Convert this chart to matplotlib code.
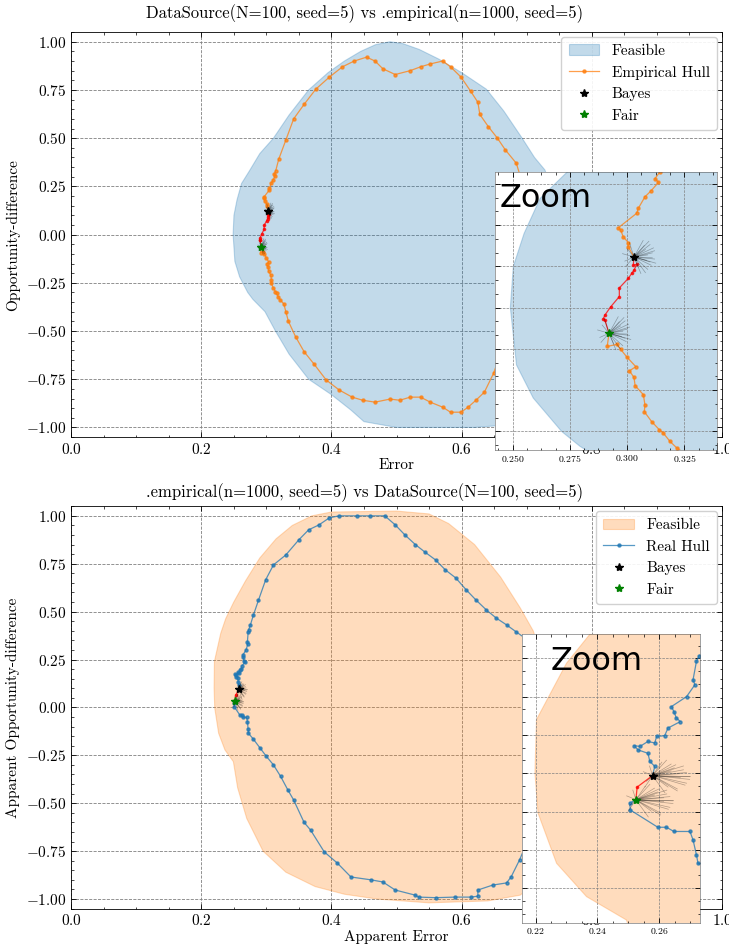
import matplotlib
matplotlib.use('Agg')
import matplotlib.pyplot as plt
from matplotlib.ticker import MultipleLocator, AutoMinorLocator

# Style: serif text, ticks pointing in on all four sides, dashed grid
plt.rcParams['font.family'] = 'serif'
plt.rcParams['font.serif'] = ['cmr10', 'DejaVu Serif']
plt.rcParams['mathtext.fontset'] = 'cm'
plt.rcParams['axes.formatter.use_mathtext'] = True
plt.rcParams['font.size'] = 11
plt.rcParams['axes.linewidth'] = 0.6
plt.rcParams['xtick.direction'] = 'in'
plt.rcParams['ytick.direction'] = 'in'
plt.rcParams['xtick.top'] = True
plt.rcParams['ytick.right'] = True
plt.rcParams['xtick.major.size'] = 3.5
plt.rcParams['ytick.major.size'] = 3.5
plt.rcParams['xtick.minor.size'] = 1.8
plt.rcParams['ytick.minor.size'] = 1.8
plt.rcParams['xtick.major.width'] = 0.6
plt.rcParams['ytick.major.width'] = 0.6
plt.rcParams['xtick.minor.width'] = 0.5
plt.rcParams['ytick.minor.width'] = 0.5
plt.rcParams['grid.linestyle'] = '--'
plt.rcParams['grid.color'] = '#808080'
plt.rcParams['grid.linewidth'] = 0.6

# ---------------- top panel: DataSource vs .empirical ----------------
feas_top_x = [0.249, 0.2503, 0.255, 0.262, 0.274, 0.29, 0.311, 0.335, 0.365, 0.395,
              0.42, 0.445, 0.468, 0.49, 0.51, 0.535, 0.565, 0.60, 0.638, 0.665,
              0.693, 0.712, 0.728, 0.742, 0.75, 0.752, 0.75, 0.745, 0.735, 0.715,
              0.69, 0.66, 0.62, 0.56, 0.50, 0.45, 0.43, 0.40, 0.365, 0.335,
              0.314, 0.298, 0.2794, 0.2714, 0.259, 0.2517]
feas_top_y = [0.0, 0.10, 0.18, 0.265, 0.33, 0.42, 0.50, 0.62, 0.75, 0.84,
              0.90, 0.95, 0.985, 1.0, 0.99, 0.96, 0.91, 0.84, 0.754, 0.64,
              0.50, 0.40, 0.335, 0.20, 0.05, -0.15, -0.35, -0.55, -0.72, -0.86,
              -0.95, -0.99, -1.0, -1.0, -1.0, -0.97, -0.91, -0.83, -0.75, -0.62,
              -0.50, -0.40, -0.336, -0.30, -0.219, -0.139]

hull_top_x = [0.2921, 0.2913, 0.2954, 0.2972, 0.2998, 0.3038, 0.3010, 0.3030, 0.3035, 0.3071,
              0.3078, 0.3075, 0.3107, 0.3141, 0.3158, 0.3187, 0.3217, 0.327, 0.330, 0.334,
              0.345, 0.358, 0.373, 0.392, 0.412, 0.432, 0.448, 0.467, 0.490, 0.505,
              0.521, 0.537, 0.552, 0.571, 0.583, 0.599, 0.610, 0.622, 0.635, 0.649,
              0.658, 0.668, 0.680, 0.692, 0.700, 0.702, 0.695, 0.684, 0.667, 0.655,
              0.641, 0.628, 0.625, 0.614, 0.599, 0.583, 0.571, 0.552, 0.537, 0.521,
              0.498, 0.479, 0.467, 0.454, 0.435, 0.417, 0.397, 0.376, 0.358, 0.342,
              0.330, 0.319, 0.3144, 0.3122, 0.3137, 0.3104, 0.3078, 0.3049, 0.3042, 0.2962,
              0.2972, 0.2983, 0.3005, 0.3005, 0.3030]
hull_top_y = [-0.062, -0.094, -0.089, -0.101, -0.119, -0.143, -0.153, -0.169, -0.189, -0.211,
              -0.236, -0.252, -0.276, -0.296, -0.304, -0.324, -0.340, -0.36, -0.40, -0.45,
              -0.53, -0.607, -0.67, -0.754, -0.806, -0.843, -0.859, -0.869, -0.853, -0.859,
              -0.843, -0.843, -0.869, -0.895, -0.921, -0.921, -0.895, -0.859, -0.817, -0.72,
              -0.634, -0.52, -0.38, -0.22, -0.05, 0.10, 0.25, 0.37, 0.44, 0.50,
              0.56, 0.623, 0.686, 0.743, 0.817, 0.87, 0.90, 0.885, 0.87, 0.85,
              0.83, 0.86, 0.90, 0.92, 0.90, 0.87, 0.817, 0.754, 0.675, 0.60,
              0.49, 0.39, 0.330, 0.313, 0.304, 0.283, 0.269, 0.241, 0.229, 0.194,
              0.188, 0.172, 0.158, 0.148, 0.123]

# segment of the hull between the Bayes and the fair point
red_top_x = [0.3030, 0.3027, 0.3042, 0.3030, 0.3020, 0.3005, 0.2966, 0.2966, 0.2928, 0.2903,
             0.2896, 0.2903, 0.2921]
red_top_y = [0.123, 0.103, 0.105, 0.091, 0.083, 0.071, 0.048, 0.027, 0.002, -0.018,
             -0.027, -0.030, -0.062]

bayes_top = (0.3030, 0.123)
fair_top = (0.2921, -0.062)

fan_top_dx = [0.008, 0.007, 0.009, 0.006, 0.004, 0.0075, 0.0085, 0.005, 0.003, -0.003,
              -0.004, -0.002, 0.006, 0.009, 0.007, 0.002, -0.005, 0.005, 0.008, 0.0045,
              0.0095, 0.0065, -0.0035, 0.0055]
fan_top_dy = [0.010, 0.030, -0.005, -0.030, 0.040, -0.020, 0.022, 0.018, -0.040, 0.020,
              -0.010, 0.035, 0.005, 0.015, -0.012, -0.025, 0.008, -0.038, -0.002, 0.028,
              -0.015, 0.038, -0.022, -0.008]

# ---------------- bottom panel: .empirical vs DataSource ----------------
feas_bot_x = [0.2198, 0.2203, 0.230, 0.2376, 0.25, 0.268, 0.29, 0.315, 0.34, 0.37,
              0.40, 0.50, 0.55, 0.58, 0.62, 0.66, 0.69, 0.71, 0.73, 0.745,
              0.75, 0.748, 0.74, 0.72, 0.69, 0.64, 0.55, 0.47, 0.42, 0.375,
              0.33, 0.295, 0.27, 0.256, 0.2494, 0.2365, 0.2268, 0.2208]
feas_bot_y = [0.10, 0.24, 0.387, 0.463, 0.55, 0.66, 0.78, 0.88, 0.95, 1.0,
              1.02, 1.025, 1.01, 0.96, 0.85, 0.68, 0.52, 0.40, 0.20, 0.0,
              -0.25, -0.50, -0.75, -0.90, -0.98, -1.01, -1.02, -1.0, -0.975, -0.935,
              -0.86, -0.75, -0.58, -0.42, -0.283, -0.222, -0.135, -0.004]

hull_bot_x = [0.2525, 0.2505, 0.2507, 0.2596, 0.2624, 0.2648, 0.2700, 0.2710, 0.2721, 0.2726,
              0.280, 0.290, 0.300, 0.311, 0.322, 0.333, 0.342, 0.358, 0.368, 0.389,
              0.409, 0.430, 0.461, 0.479, 0.498, 0.529, 0.534, 0.560, 0.590, 0.615,
              0.625, 0.625, 0.648, 0.669, 0.676, 0.689, 0.700, 0.712, 0.722, 0.728,
              0.726, 0.718, 0.705, 0.697, 0.684, 0.669, 0.653, 0.638, 0.622, 0.607,
              0.591, 0.575, 0.560, 0.544, 0.529, 0.513, 0.498, 0.482, 0.460, 0.440,
              0.412, 0.397, 0.381, 0.365, 0.350, 0.330, 0.311, 0.299, 0.288, 0.280,
              0.2755, 0.2729, 0.2721, 0.2710, 0.2716, 0.2689, 0.2640, 0.2648, 0.2656, 0.2669,
              0.2629, 0.2618, 0.2592, 0.2586, 0.2564, 0.2538, 0.2519, 0.2532, 0.2564, 0.2570,
              0.2586, 0.2579]
hull_bot_y = [0.031, 0.022, 0.004, -0.041, -0.041, -0.052, -0.052, -0.074, -0.113, -0.135,
              -0.165, -0.21, -0.255, -0.30, -0.36, -0.43, -0.483, -0.60, -0.64, -0.754,
              -0.812, -0.885, -0.90, -0.911, -0.953, -0.98, -0.99, -0.993, -0.99, -0.99,
              -0.985, -0.953, -0.927, -0.916, -0.885, -0.796, -0.708, -0.55, -0.35, -0.15,
              0.05, 0.20, 0.32, 0.363, 0.394, 0.431, 0.467, 0.509, 0.561, 0.614,
              0.676, 0.718, 0.77, 0.81, 0.85, 0.90, 0.953, 1.0, 1.0, 1.0,
              1.0, 0.99, 0.953, 0.927, 0.875, 0.796, 0.744, 0.666, 0.56, 0.48,
              0.43, 0.405, 0.392, 0.344, 0.331, 0.300, 0.274, 0.261, 0.244, 0.235,
              0.218, 0.198, 0.196, 0.179, 0.183, 0.170, 0.172, 0.161, 0.152, 0.131,
              0.118, 0.094]

red_bot_x = [0.2579, 0.2529, 0.2525]
red_bot_y = [0.094, 0.064, 0.031]

bayes_bot = (0.2579, 0.094)
fair_bot = (0.2525, 0.031)

fan_bot_dx = [0.012, 0.010, 0.008, 0.011, 0.006, 0.009, 0.004, 0.012, 0.007, -0.003,
              -0.002, 0.005, 0.010, 0.003, 0.009, 0.011, -0.001, 0.008, 0.006, 0.012,
              0.0105, 0.0075, -0.0025, 0.0045]
fan_bot_dy = [0.0, 0.015, -0.035, -0.02, 0.03, 0.005, -0.045, -0.01, 0.02, 0.01,
              -0.015, -0.03, 0.025, 0.035, -0.005, 0.008, 0.025, -0.04, 0.012, -0.003,
              -0.025, 0.028, -0.03, 0.04]


def draw_content(ax, fx, fy, fcolor, hx, hy, hcolor, hlabel, rx, ry,
                 bayes, fair, fan_dx, fan_dy):
    ax.fill(fx, fy, color=fcolor, alpha=0.27, lw=0.8, label='Feasible', zorder=1)
    ax.plot(hx, hy, color=hcolor, lw=0.9, alpha=0.75, marker='o', ms=2.2,
            label=hlabel, zorder=2)
    ax.plot(rx, ry, color='red', lw=0.9, alpha=0.75, marker='o', ms=1.6, zorder=3)
    for px, py in (bayes, fair):
        for dx, dy in zip(fan_dx, fan_dy):
            ax.plot([px, px + dx], [py, py + dy], color='k', lw=0.5, alpha=0.3, zorder=4)
    ax.plot(*bayes, ls='none', marker='*', color='k', ms=6, label='Bayes', zorder=5)
    ax.plot(*fair, ls='none', marker='*', color='green', ms=6, label='Fair', zorder=5)


def style_main(ax):
    ax.set_xlim(0, 1)
    ax.set_ylim(-1.05, 1.05)
    ax.xaxis.set_major_locator(MultipleLocator(0.2))
    ax.yaxis.set_major_locator(MultipleLocator(0.25))
    ax.xaxis.set_minor_locator(AutoMinorLocator(4))
    ax.yaxis.set_minor_locator(AutoMinorLocator(5))
    ax.grid(True, which='major')
    ax.set_axisbelow(True)


def style_inset(ax, xlim, ylim, xstep, text_x):
    ax.set_facecolor('white')
    ax.set_xlim(*xlim)
    ax.set_ylim(*ylim)
    ax.xaxis.set_major_locator(MultipleLocator(xstep))
    ax.xaxis.set_minor_locator(AutoMinorLocator(4))
    ax.yaxis.set_major_locator(MultipleLocator(0.1))
    ax.yaxis.set_minor_locator(AutoMinorLocator(3))
    ax.tick_params(labelleft=False, labelsize=7, pad=2)
    ax.grid(True, which='major', lw=0.5)
    for s in ax.spines.values():
        s.set_linewidth(0.4)
        s.set_color('0.35')
    ax.text(text_x, 0.96, 'Zoom', transform=ax.transAxes, va='top', ha='left',
            family='DejaVu Sans', fontsize=23, zorder=10)


fig = plt.figure(figsize=(7.29, 9.44), dpi=100)

# top panel
ax1 = fig.add_axes([0.0974, 0.537, 0.893, 0.429])
draw_content(ax1, feas_top_x, feas_top_y, 'C0', hull_top_x, hull_top_y, 'C1',
             'Empirical Hull', red_top_x, red_top_y, bayes_top, fair_top,
             fan_top_dx, fan_top_dy)
style_main(ax1)
fig.text(0.5, 1 - 14 / 944, 'DataSource(N=100, seed=5) vs .empirical(n=1000, seed=5)',
         ha='center', va='center', fontsize=12)
ax1.set_xlabel('Error', labelpad=1)
ax1.set_ylabel('Opportunity-difference')
ax1.legend(loc='upper right', fontsize=11, framealpha=0.9, borderpad=0.5,
           borderaxespad=0.3)

ins1 = fig.add_axes([0.679, 0.5233, 0.305, 0.2945], zorder=5)
draw_content(ins1, feas_top_x, feas_top_y, 'C0', hull_top_x, hull_top_y, 'C1',
             'Empirical Hull', red_top_x, red_top_y, bayes_top, fair_top,
             fan_top_dx, fan_top_dy)
style_inset(ins1, (0.2423, 0.3394), (-0.345, 0.329), 0.025, 0.02)

# bottom panel
ax2 = fig.add_axes([0.0974, 0.0375, 0.893, 0.4262])
draw_content(ax2, feas_bot_x, feas_bot_y, 'C1', hull_bot_x, hull_bot_y, 'C0',
             'Real Hull', red_bot_x, red_bot_y, bayes_bot, fair_bot,
             fan_bot_dx, fan_bot_dy)
style_main(ax2)
fig.text(0.5, 1 - 493 / 944, '.empirical(n=1000, seed=5) vs DataSource(N=100, seed=5)',
         ha='center', va='center', fontsize=12)
ax2.set_xlabel('Apparent Error', labelpad=1)
ax2.set_ylabel('Apparent Opportunity-difference')
ax2.legend(loc='upper right', fontsize=11, framealpha=0.9, borderpad=0.5,
           borderaxespad=0.3)

ins2 = fig.add_axes([0.716, 0.0222, 0.244, 0.306], zorder=5)
draw_content(ins2, feas_bot_x, feas_bot_y, 'C1', hull_bot_x, hull_bot_y, 'C0',
             'Real Hull', red_bot_x, red_bot_y, bayes_bot, fair_bot,
             fan_bot_dx, fan_bot_dy)
style_inset(ins2, (0.2156, 0.2732), (-0.291, 0.463), 0.02, 0.16)

fig.savefig('out.png', dpi=100)
